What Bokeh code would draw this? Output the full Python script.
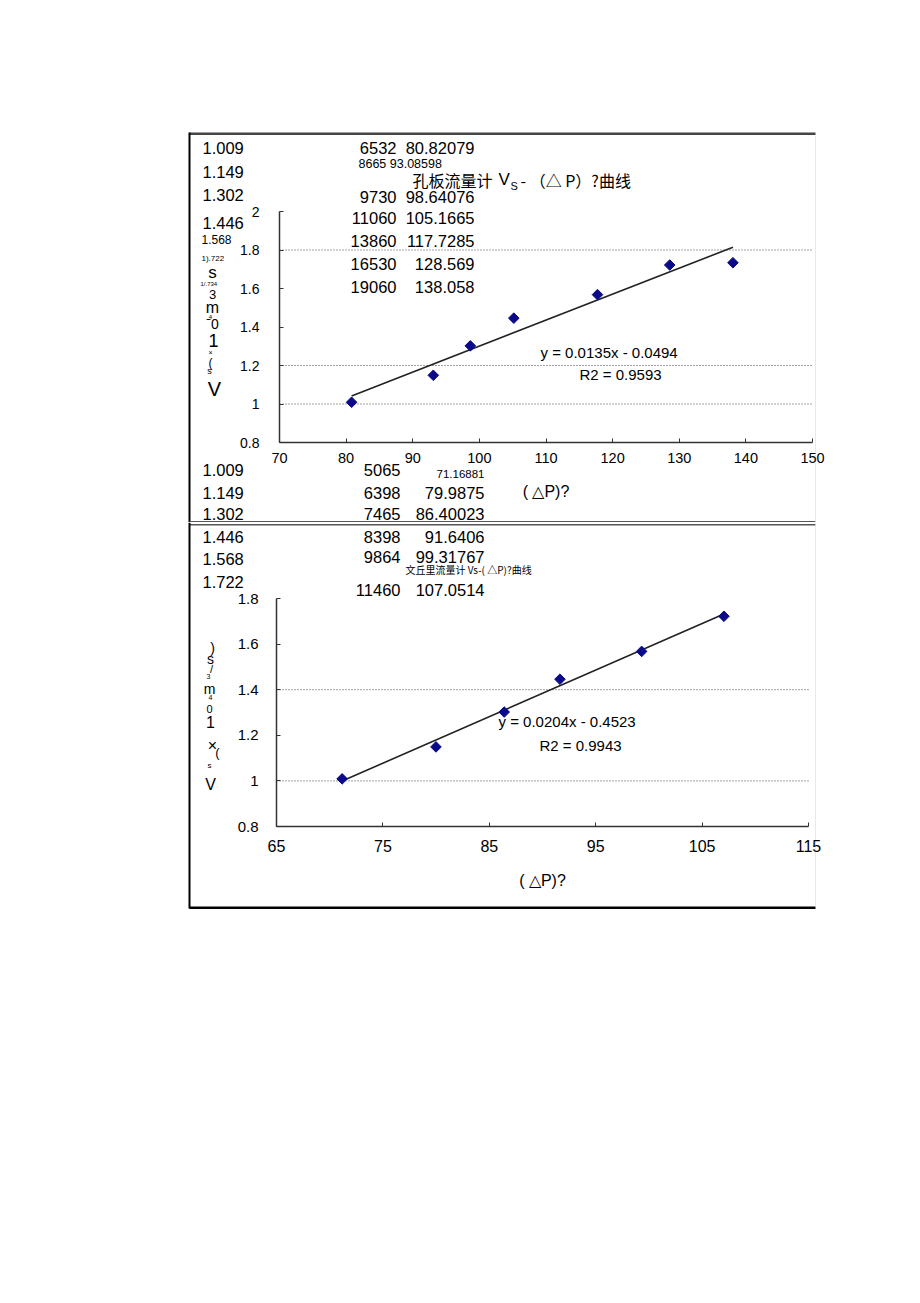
import math
from bokeh.plotting import figure
from bokeh.models import Label, FixedTicker, CustomJSTickFormatter, Range1d
from bokeh.layouts import column
from bokeh.embed import file_html
from bokeh.resources import INLINE

# ---------------- data ----------------
orifice_dp = [6532, 8665, 9730, 11060, 13860, 16530, 19060]
orifice_sqrt_dp = [80.82079, 93.08598, 98.64076, 105.1665, 117.7285, 128.569, 138.058]
orifice_vs = [1.009, 1.149, 1.302, 1.446, 1.568, 1.722, 1.734]
orifice_slope, orifice_intercept, orifice_r2 = 0.0135, -0.0494, 0.9593

venturi_dp = [5065, 6398, 7465, 8398, 9864, 11460]
venturi_sqrt_dp = [71.16881, 79.9875, 86.40023, 91.6406, 99.31767, 107.0514]
venturi_vs = [1.009, 1.149, 1.302, 1.446, 1.568, 1.722]
venturi_slope, venturi_intercept, venturi_r2 = 0.0204, -0.4523, 0.9943

orifice_xticks = [70, 80, 90, 100, 110, 120, 130, 140, 150]
orifice_yticks = [0.8, 1.0, 1.2, 1.4, 1.6, 1.8, 2.0]
orifice_gridlines = [1.0, 1.2, 1.8]
venturi_xticks = [65, 75, 85, 95, 105, 115]
venturi_yticks = [0.8, 1.0, 1.2, 1.4, 1.6, 1.8]
venturi_gridlines = [1.0, 1.4]

orifice_title = ["孔板流量计", "V", "S", "- （△ P）?曲线"]
venturi_title = "文丘里流量计 Vs-( △P)?曲线"
x_title = "( △P)?"
garbled = ["1).722", "1/.734"]
ylab1 = [("s", 17), ("3", 13), ("m", 16), ("4", 6), ("ˉ0", 14), ("1", 18), ("×", 7), ("(", 12), ("s", 9), ("V", 20)]
ylab2 = [(")", 14), ("s", 14), ("/", 11), ("3", 7), ("m", 14), ("4", 7), ("0", 11), ("1", 16), ("×", 16), ("(", 13), ("s", 8), ("V", 16)]

FONT = "Liberation Sans"
CJK = "Noto Sans CJK SC"
NAVY = "#0b0b8a"
W = 920

fmt = CustomJSTickFormatter(code="return String(Math.round(tick*10)/10)")


def extend(lo, hi, p_lo, p_hi, total):
    """data range covering the full canvas, given that lo..hi spans pixels p_lo..p_hi"""
    k = (hi - lo) / (p_hi - p_lo)
    return lo - p_lo * k, hi + (total - p_hi) * k


def make_fig(height, xb, xpix, yb, ypix, xticks, yticks, grid_vals):
    x_lo, x_hi = extend(xb[0], xb[1], xpix[0], xpix[1], W)
    y_lo, y_hi = extend(yb[0], yb[1], height - ypix[0], height - ypix[1], height)
    p = figure(width=W, height=height, output_backend="svg", toolbar_location=None,
               x_range=Range1d(x_lo, x_hi), y_range=Range1d(y_lo, y_hi), min_border=0)
    p.outline_line_color = None
    p.background_fill_color = "white"
    p.border_fill_color = "white"
    p.grid.visible = False
    for ax in (p.xaxis[0], p.yaxis[0]):
        ax.axis_line_color = "#333333"
        ax.axis_line_width = 1.5
        ax.major_tick_in = 4
        ax.major_tick_out = 0
        ax.major_tick_line_color = "#333333"
        ax.minor_tick_line_color = None
        ax.major_label_text_font = FONT
        ax.major_label_text_color = "black"
        ax.formatter = fmt
    p.xaxis.fixed_location = yb[0]
    p.xaxis.bounds = xb
    p.yaxis.fixed_location = xb[0]
    p.yaxis.bounds = yb
    p.xaxis.ticker = FixedTicker(ticks=xticks)
    p.yaxis.ticker = FixedTicker(ticks=yticks)
    p.xaxis.axis_label = x_title
    p.xaxis.axis_label_text_font = FONT
    p.xaxis.axis_label_text_font_style = "normal"
    p.xaxis.axis_label_text_font_size = "16px"
    p.xaxis.axis_label_text_color = "black"
    n = len(grid_vals)
    p.segment(x0=[xb[0]] * n, x1=[xb[1]] * n, y0=grid_vals, y1=grid_vals,
              line_color="#444444", line_dash="1 2", line_width=1)
    return p


class Page:
    """places page decorations (scanned-page texts and frame rules) in page pixels"""
    def __init__(self, p, top_page, height):
        self.p, self.top, self.h = p, top_page, height
        self.bottom = top_page + height
        xr, yr = p.x_range, p.y_range
        self.kx = (xr.end - xr.start) / W
        self.ky = (yr.end - yr.start) / height
        self.x0, self.y0 = xr.start, yr.start

    def text(self, px, py, txt, size, font=FONT, align="left", color="black"):
        self.p.add_layout(Label(x=px, y=self.bottom - py, x_units="screen", y_units="screen",
                                text=txt, text_font=font, text_font_size=f"{size}px",
                                text_align=align, text_baseline="middle", text_color=color))

    def rule(self, x0, x1, y0, y1, color="black", alpha=1.0):
        dx = lambda px: self.x0 + px * self.kx
        dy = lambda py: self.y0 + (self.bottom - py) * self.ky
        self.p.quad(left=[dx(x0)], right=[dx(x1)], top=[dy(y0)], bottom=[dy(y1)],
                    fill_color=color, fill_alpha=alpha, line_color=None)


def add_points(p, xs, ys):
    p.scatter(xs, ys, marker="square", size=7.5, angle=math.pi / 4,
              fill_color=NAVY, line_color=NAVY)


# ---------------- chart 1: orifice ----------------
H1 = 522
p1 = make_fig(H1, (70, 150), (279, 812), (0.8, 2.0), (442, 211), orifice_xticks, orifice_yticks, orifice_gridlines)
p1.xaxis.major_label_text_font_size = "14.5px"
p1.xaxis.major_label_standoff = 10
p1.xaxis.axis_label_standoff = 17
p1.yaxis.major_label_text_font_size = "14px"
p1.yaxis.major_label_standoff = 20

g1 = Page(p1, 0, H1)
# frame lines of the scanned page
g1.rule(189, 815, 132, 134.5, color="#444444")
g1.rule(188, 190, 132, 522)
g1.rule(189, 815, 520.5, 522, color="#555555")
g1.rule(814.5, 815.5, 135, 522, color="#e4d4e4", alpha=0.6)

x0, x1 = min(orifice_sqrt_dp), max(orifice_sqrt_dp)
p1.line([x0, x1], [orifice_slope * x0 + orifice_intercept, orifice_slope * x1 + orifice_intercept],
        line_color="#222222", line_width=1.6)
add_points(p1, orifice_sqrt_dp, orifice_vs)

# left column of Vs values
vs_y = [147, 171, 194, 222]
for v, y in zip(orifice_vs[:4], vs_y):
    g1.text(202, y, f"{v:.3f}", 16.5)
g1.text(201, 239, f"{orifice_vs[4]:.3f}", 12)
g1.text(201, 258, garbled[0], 8)
g1.text(200, 283, garbled[1], 6)

# dp / sqrt(dp) table
rows = [(147, 16.5), (163, 12.5), (196, 16.5), (217, 16.5), (240, 16.5), (263, 16.5), (286, 16.5)]
for i, (y, s) in enumerate(rows):
    if s < 14:
        g1.text(358, y, f"{orifice_dp[i]} {orifice_sqrt_dp[i]}", s)
    else:
        g1.text(396, y, f"{orifice_dp[i]}", s, align="right")
        g1.text(474, y, f"{orifice_sqrt_dp[i]}", s, align="right")

# title
g1.text(412, 179, orifice_title[0], 16, font=CJK)
g1.text(498, 179, orifice_title[1], 17)
g1.text(510, 185, orifice_title[2], 11)
g1.text(520, 179, orifice_title[3], 16, font=CJK)

# regression text
g1.text(540, 352, f"y = {orifice_slope}x - {abs(orifice_intercept)}", 15)
g1.text(579, 374, f"R2 = {orifice_r2}", 15)

# garbled y-axis title
ypos1 = [272, 294, 307, 316, 323, 340, 352, 362, 370, 388]
xpos1 = [212, 212, 212, 210, 212, 213, 210, 210, 209, 214]
for (t, s), x, y in zip(ylab1, xpos1, ypos1):
    g1.text(x, y, t, s, align="center")

# venturi table rows that sit in the first box
for i, y in enumerate([469, 492, 513]):
    g1.text(202, y, f"{venturi_vs[i]:.3f}", 16.5)
    g1.text(400, y, f"{venturi_dp[i]}", 16.5, align="right")
g1.text(484, 473, f"{venturi_sqrt_dp[0]}", 11.5, align="right")
g1.text(484, 492, f"{venturi_sqrt_dp[1]}", 16.5, align="right")
g1.text(484, 513, f"{venturi_sqrt_dp[2]}", 16.5, align="right")

# ---------------- chart 2: venturi ----------------
H2 = 1303 - H1
p2 = make_fig(H2, (65, 115), (276, 808), (0.8, 1.8), (826 - H1, 598 - H1), venturi_xticks, venturi_yticks, venturi_gridlines)
p2.xaxis.major_label_text_font_size = "16px"
p2.xaxis.major_label_standoff = 13
p2.xaxis.axis_label_standoff = 17
p2.yaxis.major_label_text_font_size = "15px"
p2.yaxis.major_label_standoff = 18

g2 = Page(p2, H1, H2)
g2.rule(189, 815, 523.5, 525, color="#555555")
g2.rule(188, 190, 522, 908)
g2.rule(189, 815, 906, 908.5)
g2.rule(814.5, 815.5, 522, 906, color="#e4d4e4", alpha=0.6)

x0, x1 = min(venturi_sqrt_dp), max(venturi_sqrt_dp)
p2.line([x0, x1], [venturi_slope * x0 + venturi_intercept, venturi_slope * x1 + venturi_intercept],
        line_color="#222222", line_width=1.6)
add_points(p2, venturi_sqrt_dp, venturi_vs)

g2.text(202, 536, f"{venturi_vs[3]:.3f}", 16.5)
g2.text(202, 558, f"{venturi_vs[4]:.3f}", 16.5)
g2.text(202, 581, f"{venturi_vs[5]:.3f}", 16.5)
for i, y in zip([3, 4, 5], [536, 556, 589]):
    g2.text(400, y, f"{venturi_dp[i]}", 16.5, align="right")
    g2.text(484, y, f"{venturi_sqrt_dp[i]}", 16.5, align="right")

g2.text(405, 569, venturi_title, 10, font=CJK)

g2.text(498, 721, f"y = {venturi_slope}x - {abs(venturi_intercept)}", 15)
g2.text(539, 745, f"R2 = {venturi_r2}", 15)

ypos2 = [647, 658, 668, 676, 688, 697, 708, 721, 745, 752, 765, 784]
xpos2 = [212, 210, 211, 208, 209, 210, 209, 210, 212, 217, 209, 210]
for (t, s), x, y in zip(ylab2, xpos2, ypos2):
    g2.text(x, y, t, s, align="center")

layout = column(p1, p2, spacing=0)
open("out.html", "w").write(file_html(layout, INLINE))
